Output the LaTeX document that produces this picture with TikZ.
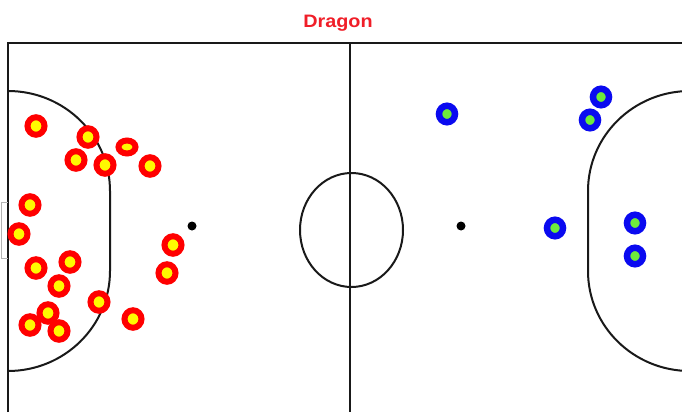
\documentclass[tikz,border=0pt]{standalone}
\usepackage{fontspec}
\setmainfont{Liberation Sans}
\usetikzlibrary{shapes.geometric}
\definecolor{titlered}{RGB}{240,30,40}
\definecolor{pred}{RGB}{255,0,0}
\definecolor{pyellow}{RGB}{255,250,0}
\definecolor{pblue}{RGB}{10,10,240}
\definecolor{pgreen}{RGB}{110,235,60}
\definecolor{linegray}{RGB}{25,25,25}
\tikzset{
  fieldline/.style={draw=linegray,line width=2pt},
  redp/.style={ellipse,draw=pred,fill=pyellow,line width=6pt,minimum width=17pt,minimum height=17.5pt,inner sep=0pt},
  bluep/.style={ellipse,draw=pblue,fill=pgreen,line width=6.5pt,minimum width=16pt,minimum height=16.5pt,inner sep=0pt},
  spot/.style={circle,fill=black,minimum size=9pt,inner sep=0pt}
}
\begin{document}
\begin{tikzpicture}[x=1pt,y=-1pt]
\useasboundingbox (0,0) rectangle (682,412);
\fill[white] (0,0) rectangle (682,412);
% title
\node[font=\bfseries\fontsize{18}{20}\selectfont,text=titlered,xscale=1.1,anchor=base] (title) at (338,28) {Dragon};
% field
\draw[fieldline] (8,412) -- (8,43) -- (690,43);
\draw[fieldline] (350,43) -- (350,412);
\draw[fieldline] (351.5,230) ellipse [x radius=51.5, y radius=57];
% left D
\draw[fieldline] (8,91) arc[start angle=-90,end angle=0,x radius=102,y radius=100] -- (110,271)
  arc[start angle=0,end angle=90,x radius=102,y radius=100];
% right D
\draw[fieldline] (690,91) arc[start angle=-90,end angle=-180,x radius=102,y radius=100] -- (588,271)
  arc[start angle=180,end angle=90,x radius=102,y radius=100];
% goal
\draw[gray!60,line width=0.8pt] (8,202) -- (1.5,202) -- (1.5,258) -- (8,258);
% spots
\node[spot] (sl) at (192,226) {};
\node[spot] (sr) at (461,226) {};
% red players
\node[redp] (r1) at (36,126) {};
\node[redp] (r2) at (88,137) {};
\node[redp,minimum width=17pt,minimum height=13pt] (r3) at (127,147) {};
\node[redp] (r4) at (76,160) {};
\node[redp] (r5) at (105,165) {};
\node[redp] (r6) at (150,166) {};
\node[redp] (r7) at (30,205) {};
\node[redp] (r8) at (19,234) {};
\node[redp] (r9) at (173,245) {};
\node[redp] (r10) at (70,262) {};
\node[redp] (r11) at (36,268) {};
\node[redp] (r12) at (167,273) {};
\node[redp] (r13) at (59,286) {};
\node[redp] (r14) at (99,302) {};
\node[redp] (r15) at (48,313) {};
\node[redp] (r16) at (30,325) {};
\node[redp] (r17) at (59,331) {};
\node[redp] (r18) at (133,319) {};
% blue players
\node[bluep] (b1) at (447,114) {};
\node[bluep] (b2) at (601,97) {};
\node[bluep] (b3) at (590,120) {};
\node[bluep] (b4) at (555,228) {};
\node[bluep] (b5) at (635,223) {};
\node[bluep] (b6) at (635,256) {};
\end{tikzpicture}
\end{document}
